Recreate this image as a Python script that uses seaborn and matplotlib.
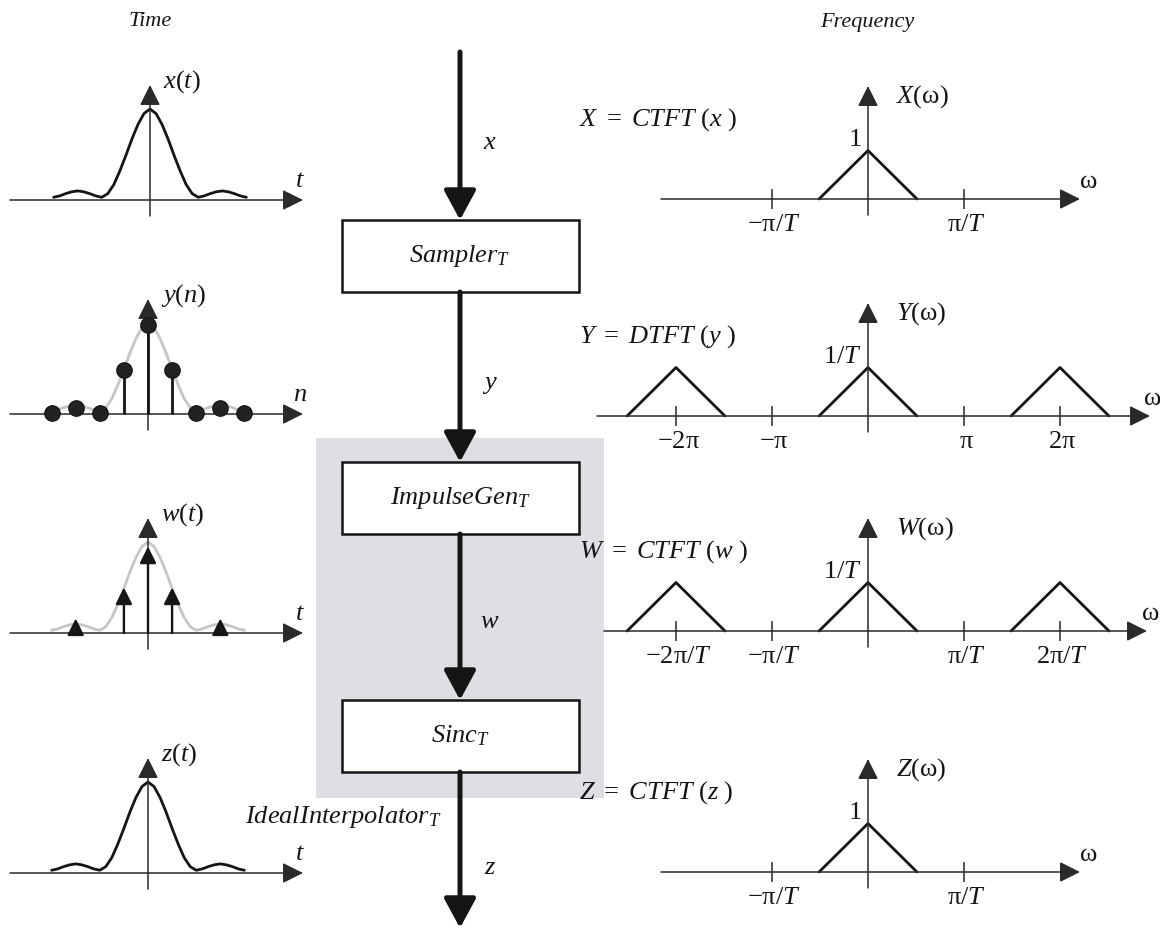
import numpy as np
import pandas as pd
import seaborn as sns
import matplotlib.pyplot as plt
from matplotlib.patches import Rectangle

W_PX, H_PX = 1160, 936

# ---- time-domain data (sample units, peak = 1) ----
curve_n = [-4, -3.75, -3.5, -3.25, -3, -2.75, -2.5, -2.25, -2, -1.75, -1.5, -1.25, -1, -0.75, -0.5, -0.25, 0,
           0.25, 0.5, 0.75, 1, 1.25, 1.5, 1.75, 2, 2.25, 2.5, 2.75, 3, 3.25, 3.5, 3.75, 4]
curve_v = [0.03, 0.045, 0.07, 0.09, 0.1, 0.09, 0.07, 0.045, 0.03, 0.07, 0.17, 0.32, 0.49, 0.67, 0.83, 0.95, 1.0,
           0.95, 0.83, 0.67, 0.49, 0.32, 0.17, 0.07, 0.03, 0.045, 0.07, 0.09, 0.1, 0.09, 0.07, 0.045, 0.03]
sample_n = [-4, -3, -2, -1, 0, 1, 2, 3, 4]
sample_y = [0.01, 0.07, 0.01, 0.48, 0.98, 0.48, 0.01, 0.07, 0.01]
impulse_n = [-3, -1, 0, 1, 3]
impulse_w = [0.16, 0.5, 0.95, 0.5, 0.16]

# ---- frequency-domain data (units of pi/T, peak = 1) ----
tri_w = [-0.51, 0, 0.51]
tri_h = [0, 1, 0]
single_copy = [0]
periodic_copies = [-2, 0, 2]
ticks_one = [-1, 1]
ticks_two = [-2, -1, 1, 2]
X_ticklabels = [r'$-\mathrm{\pi}/T$', r'$\mathrm{\pi}/T$']
Y_ticklabels = [r'$-2\mathrm{\pi}$', r'$-\mathrm{\pi}$', r'$\mathrm{\pi}$', r'$2\mathrm{\pi}$']
W_ticklabels = [r'$-2\mathrm{\pi}/T$', r'$-\mathrm{\pi}/T$', r'$\mathrm{\pi}/T$', r'$2\mathrm{\pi}/T$']

sns.set_theme(style='white')
plt.rcParams['font.family'] = ['Liberation Serif', 'DejaVu Serif']
plt.rcParams['mathtext.fontset'] = 'custom'
plt.rcParams['mathtext.rm'] = 'Liberation Serif'
plt.rcParams['mathtext.it'] = 'Liberation Serif:italic'
plt.rcParams['mathtext.bf'] = 'Liberation Serif:bold'

INK = '#151515'
AX = '#2a2a2a'
FS = 19

fig = plt.figure(figsize=(W_PX / 100, H_PX / 100), dpi=100)
bg = fig.add_axes([0, 0, 1, 1])
bg.set_xlim(0, W_PX)
bg.set_ylim(H_PX, 0)
bg.axis('off')


def panel(ox, oy, sx, sy, left, right, top, bottom):
    ax = fig.add_axes([left / W_PX, 1 - bottom / H_PX, (right - left) / W_PX, (bottom - top) / H_PX])
    ax.set_xlim((left - ox) / sx, (right - ox) / sx)
    ax.set_ylim((oy - bottom) / sy, (oy - top) / sy)
    ax.axis('off')
    ax.patch.set_visible(False)
    return ax


def arrow(ax, x0, y0, x1, y1, lw=1.1, hl=0.6, hw=0.3, ms=21, color=AX, z=3):
    ax.annotate('', xy=(x1, y1), xytext=(x0, y0),
                arrowprops=dict(arrowstyle='-|>,head_length=%s,head_width=%s' % (hl, hw),
                                lw=lw, color=color, mutation_scale=ms, shrinkA=0, shrinkB=0),
                annotation_clip=False, zorder=z)


def axes_arrows(ax, ox, oy, sx, sy, hx0, hx1, vy0, vy1):
    # pixel extents -> data
    arrow(ax, (hx0 - ox) / sx, 0, (hx1 - ox) / sx, 0)
    arrow(ax, 0, (oy - vy0) / sy, 0, (oy - vy1) / sy)


# ---------------- time column ----------------
TS, TY = 24.1, 91.0


def time_panel(ox, oy, kind, label, tlabel):
    ax = panel(ox, oy, TS, TY, 0, 320, oy - 135, oy + 25)
    axes_arrows(ax, ox, oy, TS, TY, 10, 303, oy + 16, oy - 115)
    if kind == 'curve':
        sns.lineplot(x=curve_n, y=curve_v, ax=ax, color=INK, lw=2.0, sort=False, estimator=None)
    else:
        sns.lineplot(x=curve_n, y=curve_v, ax=ax, color='#c9c5c2', lw=2.0, sort=False, estimator=None)
    if kind == 'samples':
        ax.vlines(sample_n, 0, sample_y, color=INK, lw=2.0, zorder=4)
        sns.scatterplot(x=sample_n, y=sample_y, ax=ax, s=125, color='#222222', edgecolor='#111111',
                        linewidth=0.8, zorder=5)
    if kind == 'impulses':
        for n, h in zip(impulse_n, impulse_w):
            arrow(ax, n, 0, n, h, lw=1.7, hl=0.5, hw=0.25, ms=20, color=INK, z=5)
    bg.text(ox + 13, oy - 118, label, fontsize=FS, color=INK, ha='left', va='center')
    bg.text(300, oy - 19, tlabel, fontsize=FS, color=INK, ha='center', va='center')


time_panel(150, 200, 'curve', r'$x(t)$', r'$t$')
time_panel(148, 414, 'samples', r'$y(n)$', r'$n$')
time_panel(148, 633, 'impulses', r'$w(t)$', r'$t$')
time_panel(148, 873, 'curve', r'$z(t)$', r'$t$')

# ---------------- frequency column ----------------
FSX, FSY = 96.0, 48.5


def freq_panel(oy, copies, ticks, ticklabels, hx0, hx1, title, name, peak, wx):
    ox = 868
    ax = panel(ox, oy, FSX, FSY, 590, 1160, oy - 125, oy + 25)
    axes_arrows(ax, ox, oy, FSX, FSY, hx0, hx1, oy + 16, oy - 113)
    for c in copies:
        sns.lineplot(x=[c + w for w in tri_w], y=tri_h, ax=ax, color=INK, lw=2.0, sort=False, estimator=None)
    ax.vlines(ticks, -0.2, 0.2, color=AX, lw=1.1)
    for t, lab in zip(ticks, ticklabels):
        bg.text(ox + t * FSX + 2, oy + 26, lab, fontsize=FS, color=INK, ha='center', va='center')
    bg.text(579, oy - 79, title, fontsize=FS, color=INK, ha='left', va='center', zorder=6)
    bg.text(896, oy - 102, name, fontsize=FS, color=INK, ha='left', va='center')
    bg.text(862, oy - 59, peak, fontsize=FS, color=INK, ha='right', va='center')
    bg.text(wx, oy - 17, r'$\mathrm{\omega}$', fontsize=FS, color=INK, ha='center', va='center')


freq_panel(199, single_copy, ticks_one, X_ticklabels, 661, 1080,
           r'$X\ =\ CTFT\ (x\ )$', r'$X(\mathrm{\omega})$', r'$1$', 1088)
freq_panel(416, periodic_copies, ticks_two, Y_ticklabels, 597, 1150,
           r'$Y\ =\ DTFT\ (y\ )$', r'$Y(\mathrm{\omega})$', r'$1/T$', 1152)
freq_panel(631, periodic_copies, ticks_two, W_ticklabels, 604, 1147,
           r'$W\ =\ CTFT\ (w\ )$', r'$W(\mathrm{\omega})$', r'$1/T$', 1150)
freq_panel(872, single_copy, ticks_one, X_ticklabels, 661, 1080,
           r'$Z\ =\ CTFT\ (z\ )$', r'$Z(\mathrm{\omega})$', r'$1$', 1088)

# ---------------- block diagram ----------------
bg.add_patch(Rectangle((316, 438), 288, 360, facecolor='#dedfe5', edgecolor='none', zorder=0))
boxes = [(220, r'$\mathit{Sampler}_{T}$'), (462, r'$\mathit{ImpulseGen}_{T}$'), (700, r'$\mathit{Sinc}_{T}$')]
for top, lab in boxes:
    bg.add_patch(Rectangle((342, top), 237, 72, facecolor='white', edgecolor=INK, lw=1.8, zorder=2))
    bg.text(460, top + 36, lab, fontsize=FS, color=INK, ha='center', va='center', zorder=3)

for y0, y1 in [(52, 220), (292, 462), (534, 700), (772, 928)]:
    arrow(bg, 460, y0, 460, y1, lw=3.6, hl=1.2, hw=0.65, ms=15, color=INK, z=3)
for y, lab in [(143, r'$x$'), (385, r'$y$'), (622, r'$w$'), (868, r'$z$')]:
    bg.text(490, y, lab, fontsize=FS, color=INK, ha='center', va='center')
bg.text(245, 817, r'$\mathit{IdealInterpolator}_{T}$', fontsize=FS, color=INK, ha='left', va='center')

bg.text(150, 22, 'Time', fontsize=16, fontstyle='italic', color=INK, ha='center', va='center')
bg.text(867, 22, 'Frequency', fontsize=16, fontstyle='italic', color=INK, ha='center', va='center')

fig.savefig('out.png', dpi=100, facecolor='white')
